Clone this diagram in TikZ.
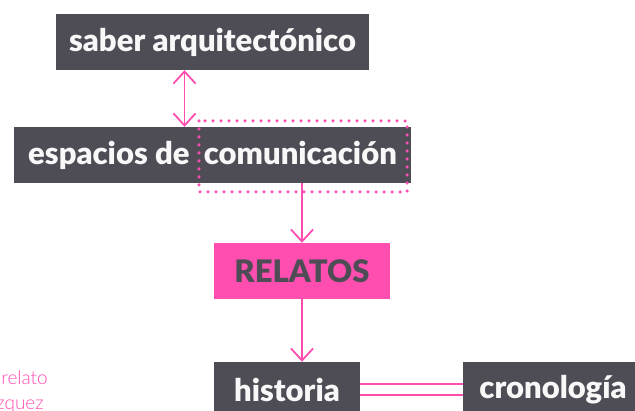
\documentclass[tikz,border=0pt]{standalone}
\usepackage{fontspec}
\setmainfont{Lato}
\newfontfamily\gruesa{Lato Black}
\newfontfamily\fina{Lato Light}
\usetikzlibrary{arrows.meta}
\definecolor{gris}{HTML}{4E4D56}
\definecolor{rosa}{HTML}{FF4DB0}
\begin{document}
\begin{tikzpicture}[x=1pt,y=-1pt,
	caja/.style={fill=gris,text=white!96!gris,minimum height=56pt,inner sep=0pt,font=\gruesa\fontsize{31}{33}\selectfont},
	flecha/.style={draw=rosa,line width=1.8pt,-{Straight Barb[length=12pt,width=22pt,line width=1.8pt]}}]
	\clip (0,0) rectangle (635,411);
	\node[caja,minimum width=313pt] (saber) at (212.5,42) {saber arquitectónico};
	\node[caja,minimum width=397pt] (espacios) at (212.5,155) {espacios de \ comunicación};
	\node[caja,fill=rosa,text=gris,minimum width=176pt] (relatos) at (302,271) {RELATOS};
	\node[caja,minimum width=146pt] (historia) at (287,390) {historia};
	\node[caja,minimum width=180pt] (cronologia) at (553,390) {cronología};
	% marco punteado
	\draw[rosa,line width=3.5pt,line cap=round,dash pattern=on 0pt off 8pt] (199,121) rectangle (407,192);
	% conectores
	\draw[flecha,{Straight Barb[length=12pt,width=22pt,line width=1.8pt]}-{Straight Barb[length=12pt,width=22pt,line width=1.8pt]}] ([xshift=-28pt]saber.south) -- ([xshift=-28pt]saber.south |- espacios.north);
	\draw[flecha] (espacios.south -| relatos.north) -- (relatos);
	\draw[flecha] (relatos) -- (relatos.south |- historia.north);
	\draw[rosa,line width=2pt,double=white,double distance=9pt] (historia) -- (cronologia);
	% textos cortados
	\node[anchor=base east,text=rosa,inner sep=0pt,font=\fina\fontsize{19}{21}\selectfont] (relato) at (48,385) {relato};
	\node[anchor=base east,text=rosa,inner sep=0pt,font=\fina\fontsize{19}{21}\selectfont] (autor) at (44,410) {zquez};
\end{tikzpicture}
\end{document}
